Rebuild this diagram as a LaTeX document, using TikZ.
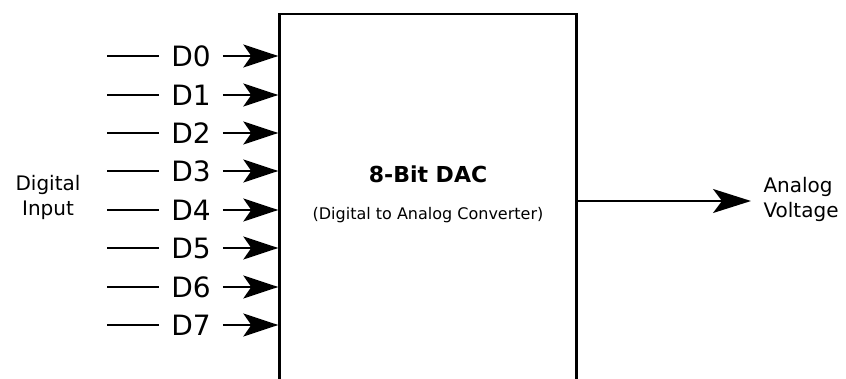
\documentclass[tikz,border=0pt]{standalone}
\usepackage{fontspec}
\setmainfont{DejaVu Sans}
\usetikzlibrary{arrows.meta}
\begin{document}
\begin{tikzpicture}[x=1pt,y=-1pt,
  wire/.style={line width=2pt,draw=black},
  sig/.style={wire,-{Stealth[length=35pt,width=23pt,inset=8pt]}},
  outsig/.style={wire,-{Stealth[length=38pt,width=24pt,inset=9pt]}},
  bitlabel/.style={font=\fontsize{28}{30}\selectfont,inner xsep=12pt,inner ysep=0pt},
  dacbox/.style={draw=black,line width=2.4pt,minimum width=297pt,minimum height=400pt,inner sep=0pt}]
  \useasboundingbox (0,0) rectangle (846,379);
  \clip (0,0) rectangle (846,379);

  % converter block (runs off the lower edge)
  \node[dacbox] (dac) at (428,214) {};
  \node[font=\bfseries\fontsize{22}{26}\selectfont] (title) at (428,174) {8-Bit DAC};
  \node[font=\fontsize{16}{19}\selectfont] (sub) at (428,215) {(Digital to Analog Converter)};

  % eight data inputs
  \foreach \i/\y in {0/56,1/95,2/133,3/171,4/210,5/248,6/287,7/325}{
    \coordinate (s\i) at (107,\y);
    \node[bitlabel] (d\i) at (191,\y) {D\i};
    \draw[wire] (s\i) -- (d\i);
    \draw[sig] (d\i) -- (dac.west |- d\i);
  }

  \node[font=\fontsize{20}{25}\selectfont,align=center] (din) at (48,197) {Digital\\Input};

  % analog output
  \coordinate (out) at (751,201);
  \draw[outsig] (dac.east |- out) -- (out);
  \node[font=\fontsize{20}{25}\selectfont,align=left,anchor=west] (aout) at (760,199) {Analog\\Voltage};
\end{tikzpicture}
\end{document}
